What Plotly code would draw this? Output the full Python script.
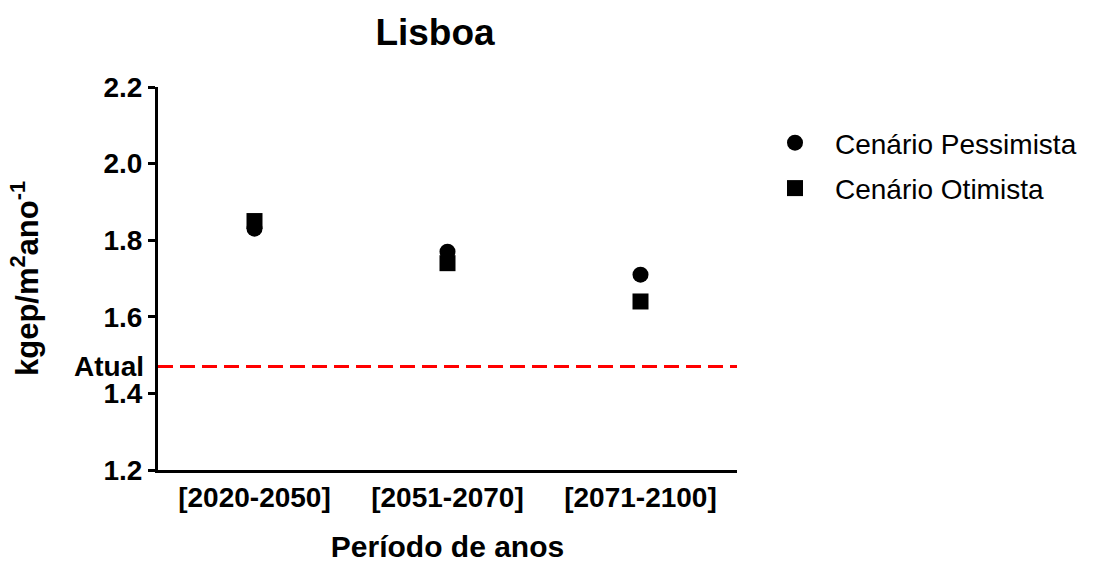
import plotly.graph_objects as go

# Consumption per period, kgep/m2 per year
periodos = ["[2020-2050]", "[2051-2070]", "[2071-2100]"]
pessimista = [1.83, 1.77, 1.71]
otimista = [1.85, 1.74, 1.64]
atual = 1.47

y_ticks = [1.2, 1.4, 1.6, 1.8, 2.0, 2.2]

x_pos = list(range(len(periodos)))

fig = go.Figure()
fig.add_trace(go.Scatter(
    x=x_pos, y=pessimista, mode="markers", name="Cenário Pessimista",
    legendgroup="p",
    marker=dict(symbol="circle", size=16, color="black"),
))
fig.add_trace(go.Scatter(
    x=x_pos, y=otimista, mode="markers", name="Cenário Otimista",
    legendgroup="o",
    marker=dict(symbol="square", size=16, color="black"),
))

# current reference level
fig.add_shape(type="line", xref="paper", x0=0, x1=1, yref="y", y0=atual, y1=atual,
              line=dict(color="#ff0000", width=3, dash="15px,7px"))
fig.add_annotation(xref="paper", x=0, yref="y", y=atual, text="<b>Atual</b>",
                   xanchor="right", yanchor="middle", xshift=-12, showarrow=False,
                   font=dict(family="Liberation Sans, Arial", size=28, color="black"))

font_b = dict(family="Liberation Sans, Arial", color="black")

fig.update_layout(
    width=1113, height=563,
    margin=dict(l=158, r=376, t=87, b=93, autoexpand=False),
    paper_bgcolor="white", plot_bgcolor="white",
    title=dict(text="<b>Lisboa</b>", x=435 / 1113, xanchor="center", y=1 - 32 / 563,
               yanchor="middle", font=dict(size=37, **font_b)),
    showlegend=True,
    legend=dict(x=1.0 + (755 - 737) / 579, xanchor="left", y=1 - (118 - 87) / 383,
                yanchor="top", traceorder="grouped", tracegroupgap=6, itemwidth=70,
                font=dict(family="Liberation Sans, Arial", size=28, color="black"),
                bgcolor="rgba(0,0,0,0)", itemsizing="trace"),
    xaxis=dict(range=[-0.5, 2.5], tickvals=x_pos, ticktext=["<b>%s</b>" % p for p in periodos],
               showline=True, linecolor="black", linewidth=3, ticks="", automargin=False,
               ticklabelstandoff=0, showgrid=False, zeroline=False,
               tickfont=dict(size=28, **font_b),
               title=dict(text="<b>Período de anos</b>", font=dict(size=30, **font_b), standoff=30)),
    yaxis=dict(range=[1.2, 2.2], tickvals=y_ticks, ticktext=["<b>%.1f</b>" % v for v in y_ticks],
               showline=True, linecolor="black", linewidth=3, ticks="outside", ticklen=7,
               tickwidth=3, tickcolor="black", showgrid=False, zeroline=False, automargin=False,
               tickfont=dict(size=28, **font_b),
               title=dict(text="<b>kgep/m<sup>2</sup>ano<sup>-1</sup></b>",
                          font=dict(size=31, **font_b), standoff=56)),
)

fig.write_html("out.html")
